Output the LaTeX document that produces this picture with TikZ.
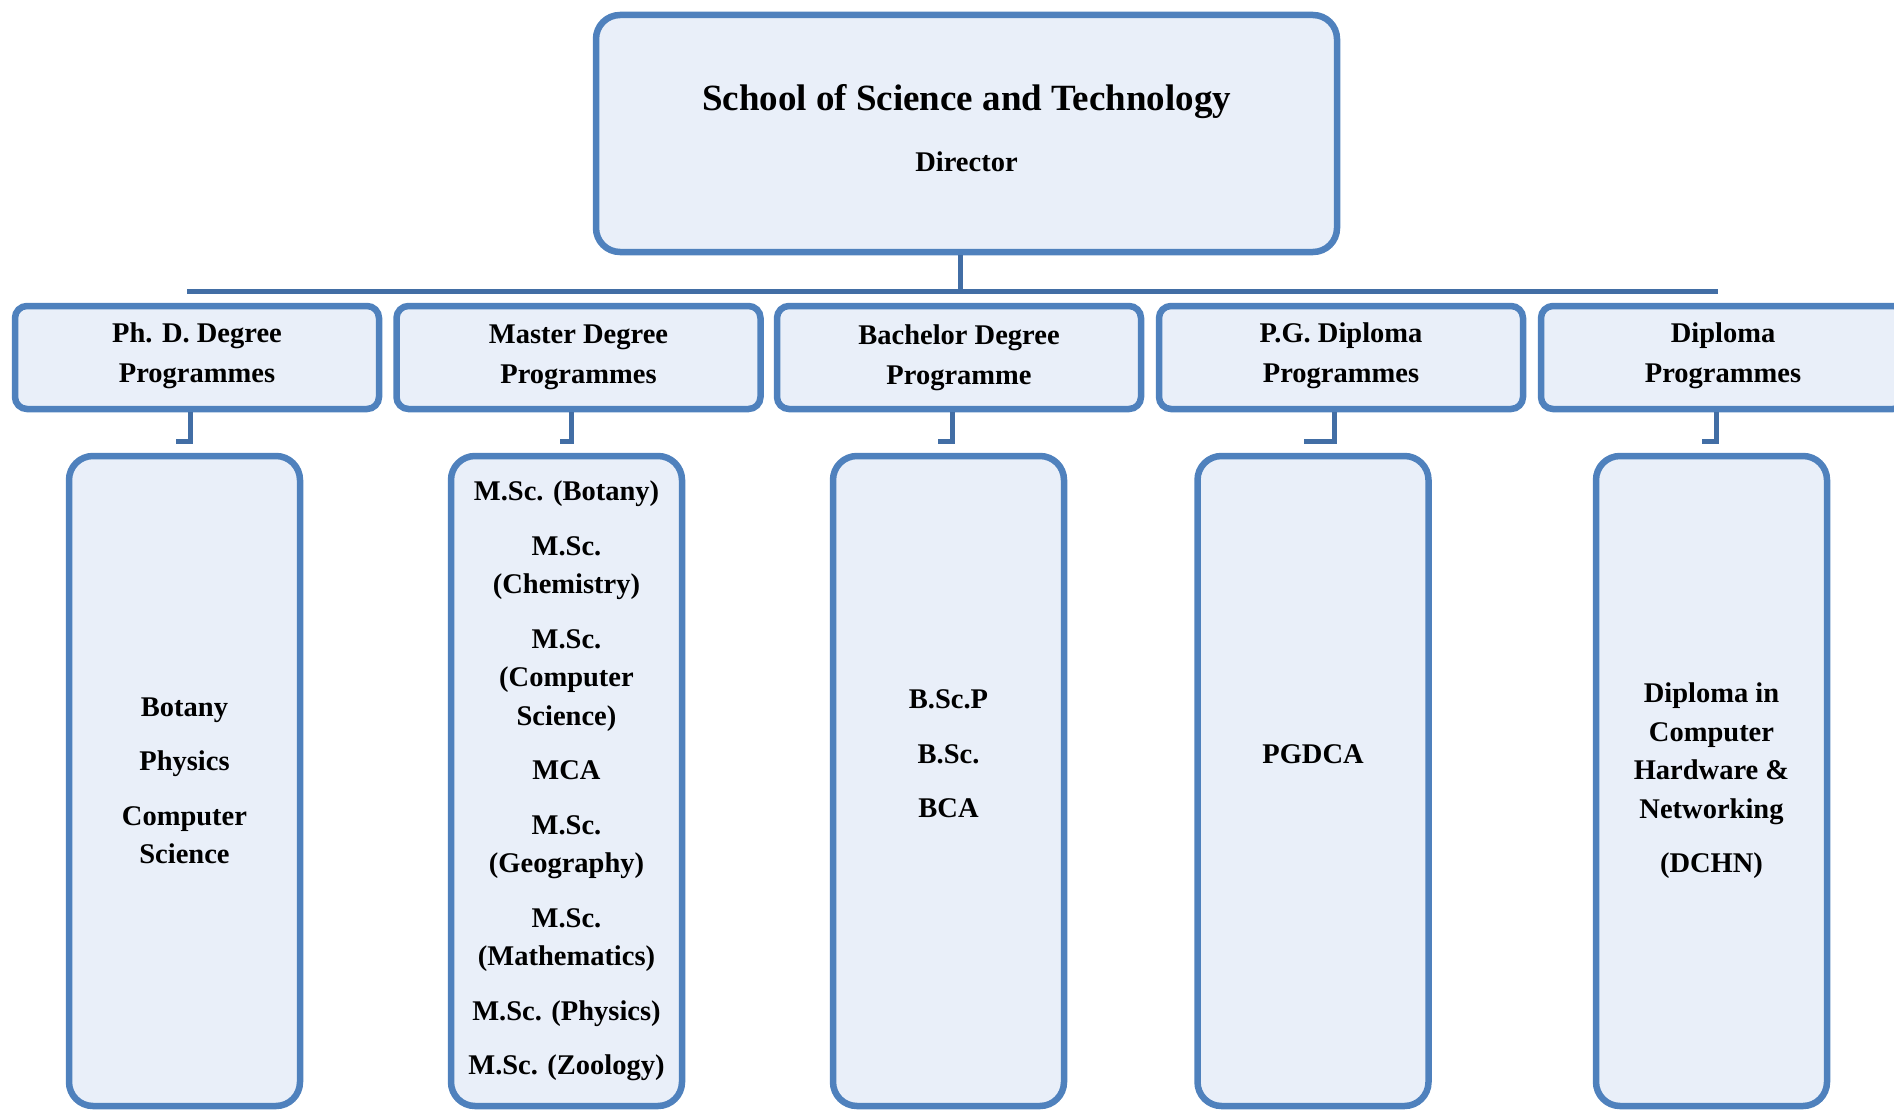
\documentclass[tikz,border=0pt]{standalone}
\usepackage{fontspec}
\setmainfont{Liberation Serif}
\usepackage{tikz}
\definecolor{boxline}{RGB}{79,129,189}
\definecolor{boxfill}{RGB}{233,239,249}
\definecolor{wireline}{RGB}{66,110,165}
\tikzstyle{every node}=[align=center, font=\bfseries\fontsize{28.5}{38.6}\selectfont]
\tikzstyle{unit}=[draw=boxline, fill=boxfill, line width=6.5pt, rounded corners=24pt]
\tikzstyle{head}=[unit, minimum width=741pt, minimum height=237pt]
\tikzstyle{prog}=[unit, rounded corners=12pt, minimum width=364pt, minimum height=103pt,
  font=\bfseries\fontsize{28.5}{40}\selectfont]
\tikzstyle{list}=[unit, minimum width=231pt, minimum height=650pt]
\tikzset{wire/.style={draw=wireline, line width=5pt}}
\newcommand{\gapline}{\\[15.8pt]}

\begin{document}
\begin{tikzpicture}[x=1pt,y=-1pt]
    \useasboundingbox (0,0) rectangle (1894,1113);

    \node[head] (school) at (966.5,133.5)
      {{\fontsize{37}{64}\selectfont School of Science and Technology}\\[22pt]Director\\[-28pt]~};

    % programme heads
    \node[prog] (phd) at (197,357.5) {Ph. D. Degree\\Programmes\\[-30pt]~};
    \node[prog] (master) at (578.5,357.5) {Master Degree\\Programmes};
    \node[prog] (bachelor) at (959,357.5) {Bachelor Degree\\Programme};
    \node[prog] (pgd) at (1341,357.5) {P.G. Diploma\\Programmes\\[-30pt]~};
    \node[prog] (diploma) at (1723,357.5) {Diploma\\Programmes\\[-30pt]~};

    % programme lists
    \node[list] (phdlist) at (184.5,781)
      {Botany\gapline Physics\gapline Computer\\Science};
    \node[list] (masterlist) at (566.5,781)
      {M.Sc. (Botany)\gapline M.Sc.\\(Chemistry)\gapline M.Sc.\\(Computer\\Science)\gapline
       MCA\gapline M.Sc.\\(Geography)\gapline M.Sc.\\(Mathematics)\gapline
       M.Sc. (Physics)\gapline M.Sc. (Zoology)};
    \node[list] (bachelorlist) at (948.5,781)
      {B.Sc.P\gapline B.Sc.\gapline BCA\gapline ~};
    \node[list] (pgdlist) at (1313,781) {PGDCA\gapline ~};
    \node[list] (diplomalist) at (1711.5,781)
      {Diploma in\\Computer\\Hardware \&\\Networking\gapline (DCHN)};

    % connectors
    \coordinate (barL) at (187,291);
    \coordinate (barR) at (1718,291);
    \draw[wire] ([xshift=-6pt]school.south) -- ([xshift=-6pt]school.south |- barL);
    \draw[wire] (barL) -- (barR);
    \foreach \n/\h in {phd/14, master/12, bachelor/14, pgd/30, diploma/14}{
      \coordinate (\n hook) at ([xshift=-7pt-\h pt, yshift=-29pt]\n.south);
      \draw[wire] ([xshift=-7pt]\n.south) |- (\n hook);
    }
  \end{tikzpicture}
\end{document}
